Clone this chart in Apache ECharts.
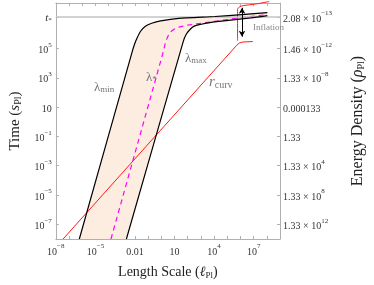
<!DOCTYPE html>
<html><head><meta charset="utf-8">
<script src="https://cdn.jsdelivr.net/npm/echarts@6/dist/echarts.min.js"></script>
<style>html,body{margin:0;padding:0;background:#fff}#c{width:374px;height:285px}</style>
</head><body><div id="c"></div>
<script>
// log10 values: x = log10(length / l_Pl), y = log10(time / s_Pl)
const tStar = 7.14;
const lamMinX = [-6.22, -2.24, -2.04, -1.83, -1.56, -1.21, -0.73, -0.05, 1.32, 4.06, 6.12, 8.04];
const lamMinY = [-8, 4.68, 5.27, 5.73, 6.19, 6.52, 6.72, 6.88, 7.05, 7.18, 7.31, 7.44];
const lamMaxX = [-2.65, 1.66, 1.87, 2.14, 2.49, 3.03, 3.58, 4.75, 6.80, 8.04];
const lamMaxY = [-8, 5.47, 5.93, 6.26, 6.52, 6.65, 6.75, 6.88, 7.08, 7.24];
const lamStarX = [-3.82, 0.16, 0.26, 0.36, 0.50, 0.70, 0.98, 1.32, 2.01, 3.03, 4.06, 6.12, 8.04];
const lamStarY = [-8, 4.81, 5.21, 5.53, 5.83, 6.13, 6.32, 6.45, 6.59, 6.72, 6.85, 7.11, 7.31];
const rCurvX = [-7.45, 5.71, 5.91, 6.19, 6.94];
const rCurvY = [-8, 5.21, 5.37, 5.44, 5.47];
const bracketX = [5.78, 5.78, 5.91, 6.26, 7.15, 8.18];
const bracketY = [5.53, 7.64, 7.83, 7.93, 8.03, 8.20];
const arrowX = 6.12, arrowTop = 7.77, arrowBot = 5.80;
const xLabelVals = [-8, -5, -2, 1, 4, 7];
const xLabelText = ['10{sup|−8}', '10{sup|−5}', '0.01', '10', '10{sup|4}', '10{sup|7}'];
const xMinorTicks = [-8,-7,-6,-5,-4,-3,-2,-1,0,1,2,3,4,5,6,7,8,9];
const yTickVals = [tStar, 5, 3, 1, -1, -3, -5, -7];
const timeLabels = ['{it|t}{sub|*}', '10{sup|5}', '10{sup|3}', '10', '10{sup|−1}', '10{sup|−3}', '10{sup|−5}', '10{sup|−7}'];
const rhoLabels = ['2.08 × 10{sup|−13}', '1.46 × 10{sup|−12}', '1.33 × 10{sup|−8}', '0.000133', '1.33', '1.33 × 10{sup|4}', '1.33 × 10{sup|8}', '1.33 × 10{sup|12}'];

const zip = (xs, ys) => xs.map((x, i) => [x, ys[i]]);
const lamMin = zip(lamMinX, lamMinY), lamMax = zip(lamMaxX, lamMaxY);
const fillPts = lamMin.concat(lamMax.slice().reverse());

const FONT = 'Liberation Serif';
const rich = {
  b: {fontFamily: FONT, fontSize: 10, color: '#333', verticalAlign: 'bottom', lineHeight: 14},
  sup: {fontFamily: FONT, fontSize: 7, color: '#333', verticalAlign: 'top', lineHeight: 14},
  it: {fontFamily: FONT, fontSize: 11, fontStyle: 'italic', color: '#333', verticalAlign: 'bottom', lineHeight: 14},
  sub: {fontFamily: FONT, fontSize: 7, color: '#333', verticalAlign: 'bottom', lineHeight: 12}
};
const wrap = s => s.split(/(\{[a-z]+\|[^}]*\})/).filter(Boolean).map(p => p.startsWith('{') ? p : '{b|' + p + '}').join('');
const idxOf = (arr, v) => arr.findIndex(a => Math.abs(a - v) < 1e-6);
const titleRich = size => ({
  b: {fontFamily: FONT, fontSize: size, color: '#222'},
  i: {fontFamily: FONT, fontSize: size, fontStyle: 'italic', color: '#222'},
  s: {fontFamily: FONT, fontSize: Math.round(size * 0.65), color: '#222', verticalAlign: 'bottom', padding: [6,0,0,0]}
});

const frame = {lineStyle: {color: '#b0b0b0', width: 1}};
const chart = echarts.init(document.getElementById('c'), null, {renderer: 'canvas'});
chart.setOption({
  animation: false,
  grid: {left: 44, right: 82, top: 3, bottom: 37},
  xAxis: [{
    type: 'value', min: -8, max: 9, position: 'bottom',
    axisLine: {show: true, onZero: false, ...frame},
    splitLine: {show: false},
    axisTick: {show: true, inside: true, length: 3, customValues: xMinorTicks, lineStyle: {color: '#b0b0b0'}},
    axisLabel: {customValues: xLabelVals, margin: 4, rich,
      formatter: v => { const i = idxOf(xLabelVals, v); return i < 0 ? '' : wrap(xLabelText[i]); }},
    name: '{b|Length Scale (}{i|ℓ}{s|Pl}{b|)}', nameLocation: 'middle', nameGap: 26,
    nameTextStyle: {rich: titleRich(14)}
  }, {
    type: 'value', min: -8, max: 9, position: 'top',
    axisLine: {show: true, onZero: false, ...frame},
    splitLine: {show: false},
    axisTick: {show: true, inside: true, length: 3, customValues: xMinorTicks, lineStyle: {color: '#b0b0b0'}},
    axisLabel: {show: false}
  }],
  yAxis: [{
    type: 'value', min: -8, max: 8.1, position: 'left',
    axisLine: {show: true, onZero: false, ...frame},
    splitLine: {show: false},
    axisTick: {show: true, inside: true, length: 3, customValues: yTickVals, lineStyle: {color: '#b0b0b0'}},
    axisLabel: {customValues: yTickVals, margin: 4, rich,
      formatter: v => { const i = idxOf(yTickVals, v); return i < 0 ? '' : wrap(timeLabels[i]); }},
    name: '{b|Time (}{i|s}{s|Pl}{b|)}', nameLocation: 'middle', nameGap: 27, nameRotate: 90,
    nameTextStyle: {rich: titleRich(15)}
  }, {
    type: 'value', min: -8, max: 8.1, position: 'right',
    axisLine: {show: true, onZero: false, ...frame},
    splitLine: {show: false},
    axisTick: {show: true, inside: true, length: 3, customValues: yTickVals, lineStyle: {color: '#b0b0b0'}},
    axisLabel: {customValues: yTickVals, margin: 3, rich,
      formatter: v => { const i = idxOf(yTickVals, v); return i < 0 ? '' : wrap(rhoLabels[i]); }},
    name: '{b|Energy Density (}{i|ρ}{s|Pl}{b|)}', nameLocation: 'middle', nameGap: 70, nameRotate: 90,
    nameTextStyle: {rich: titleRich(16)}
  }],
  series: [
    {type: 'custom', coordinateSystem: 'cartesian2d', data: [[0, 0]], z: 1, silent: true,
     renderItem: (params, api) => ({type: 'polygon', shape: {points: fillPts.map(p => api.coord(p))},
       style: {fill: '#fdece0', stroke: null}})},
    {type: 'line', data: [], z: 2, silent: true,
     markLine: {silent: true, symbol: ['none', 'none'], label: {show: false},
       lineStyle: {color: '#c4c4c4', width: 1.5, type: 'solid'}, data: [{yAxis: tStar}]}},
    {type: 'line', data: zip(rCurvX, rCurvY), showSymbol: false, z: 3, lineStyle: {color: '#ff1a1a', width: 1}},
    {type: 'line', data: zip(bracketX, bracketY), showSymbol: false, z: 3, clip: false, smooth: 0.3, lineStyle: {color: '#ff1a1a', width: 1}},
    {type: 'line', data: zip(lamStarX, lamStarY), showSymbol: false, z: 4, lineStyle: {color: '#ff00ff', width: 1.2, type: [5, 4]}},
    {type: 'line', data: lamMin, showSymbol: false, z: 5, smooth: 0.2, lineStyle: {color: '#000', width: 1.2}},
    {type: 'line', data: lamMax, showSymbol: false, z: 5, smooth: 0.2, lineStyle: {color: '#000', width: 1.2}},
    {type: 'line', data: [], z: 6, silent: true,
     markLine: {silent: true, symbol: ['arrow', 'arrow'], symbolSize: [5, 6], label: {show: false},
       lineStyle: {color: '#000', width: 1, type: 'solid'},
       data: [[{coord: [arrowX, arrowTop]}, {coord: [arrowX, arrowBot]}]]}}
  ],
  graphic: [
    {type: 'text', left: 94, top: 81, z: 10, style: {text: '{l|λ}{s|min}', rich: {
      l: {fontFamily: FONT, fontSize: 13, fill: '#777'}, s: {fontFamily: FONT, fontSize: 9, fill: '#777', verticalAlign: 'bottom', padding: [5,0,0,0]}}}},
    {type: 'text', left: 146, top: 71, z: 10, style: {text: '{l|λ}{s|*}', rich: {
      l: {fontFamily: FONT, fontSize: 13, fill: '#777'}, s: {fontFamily: FONT, fontSize: 9, fill: '#777', verticalAlign: 'bottom', padding: [5,0,0,0]}}}},
    {type: 'text', left: 185, top: 52, z: 10, style: {text: '{l|λ}{s|max}', rich: {
      l: {fontFamily: FONT, fontSize: 13, fill: '#777'}, s: {fontFamily: FONT, fontSize: 9, fill: '#777', verticalAlign: 'bottom', padding: [5,0,0,0]}}}},
    {type: 'text', left: 209, top: 75, z: 10, style: {text: '{l|r}{s|curv}', rich: {
      l: {fontFamily: FONT, fontSize: 15, fontStyle: 'italic', fill: '#777'}, s: {fontFamily: FONT, fontSize: 10, fill: '#777', verticalAlign: 'bottom', padding: [5,0,0,0]}}}},
    {type: 'text', left: 253, top: 23, z: 10, style: {text: 'Inflation', fontFamily: FONT, fontSize: 9, fill: '#888'}}
  ]
});
</script></body></html>
